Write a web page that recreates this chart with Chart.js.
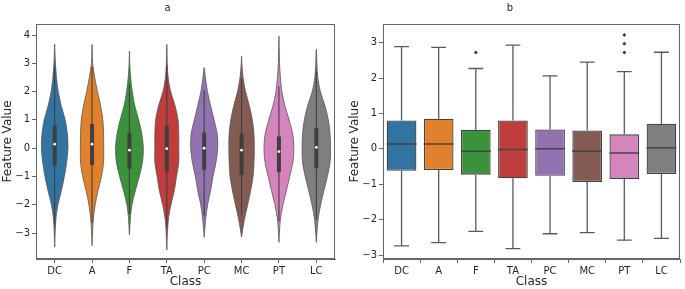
<!DOCTYPE html>
<html lang="en">
<head>
<meta charset="UTF-8">
<title>Feature Value by Class</title>
<script src="https://cdn.jsdelivr.net/npm/chart.js"></script>
<style>
  body { margin: 0; background: #fff; }
  #wrap { position: relative; width: 685px; height: 289px; }
  canvas { position: absolute; top: 0; }
  #violinChart { left: 0; }
  #boxChart { left: 340px; }
</style>
</head>
<body>
<div id="wrap">
  <canvas id="violinChart" width="340" height="289"></canvas>
  <canvas id="boxChart" width="345" height="289"></canvas>
</div>
<script>
// classes and colours (seaborn default palette, desaturated)
const classes = ['DC', 'A', 'F', 'TA', 'PC', 'MC', 'PT', 'LC'];
const colors = ['#3274a1', '#e1812c', '#3a923a', '#c03d3e', '#9372b2', '#845b53', '#d684bd', '#7f7f7f'];

// box statistics
const q1 = [-0.62, -0.60, -0.73, -0.83, -0.76, -0.94, -0.85, -0.71];
const median = [0.14, 0.14, -0.07, -0.02, 0.00, -0.07, -0.12, 0.03];
const q3 = [0.80, 0.85, 0.54, 0.80, 0.55, 0.52, 0.41, 0.71];
const whiskerLow = [-2.74, -2.65, -2.33, -2.82, -2.40, -2.37, -2.58, -2.53];
const whiskerHigh = [2.89, 2.87, 2.27, 2.93, 2.06, 2.45, 2.18, 2.73];
const outliers = [[], [], [2.72], [], [], [], [2.72, 2.97, 3.22], []];

// violin outlines (relative density at each level)
const violinLevels = [3.5, 3, 2.5, 2, 1.5, 1, 0.5, 0, -0.5, -1, -1.5, -2, -2.5, -3];
const violinTop = [3.67, 3.67, 3.43, 3.67, 2.85, 3.26, 3.96, 3.5];
const violinBottom = [-3.5, -3.45, -3.06, -3.6, -3.15, -3.15, -3.33, -3.33];
const violinDensity = [
  [0.01, 0.05, 0.12, 0.24, 0.44, 0.70, 0.85, 0.89, 0.80, 0.65, 0.45, 0.22, 0.08, 0.03],
  [0.01, 0.04, 0.18, 0.36, 0.57, 0.72, 0.77, 0.78, 0.77, 0.63, 0.40, 0.21, 0.09, 0.03],
  [0.00, 0.02, 0.08, 0.19, 0.36, 0.62, 0.83, 0.93, 0.87, 0.66, 0.40, 0.17, 0.06, 0.01],
  [0.01, 0.03, 0.09, 0.26, 0.55, 0.75, 0.80, 0.80, 0.80, 0.65, 0.50, 0.28, 0.11, 0.04],
  [0.00, 0.00, 0.08, 0.22, 0.43, 0.66, 0.87, 0.90, 0.79, 0.59, 0.43, 0.23, 0.10, 0.02],
  [0.00, 0.02, 0.10, 0.27, 0.52, 0.72, 0.83, 0.85, 0.83, 0.77, 0.61, 0.41, 0.20, 0.04],
  [0.02, 0.04, 0.10, 0.20, 0.40, 0.68, 0.92, 1.00, 0.93, 0.72, 0.50, 0.27, 0.10, 0.03],
  [0.00, 0.04, 0.10, 0.27, 0.58, 0.80, 0.92, 0.95, 0.92, 0.74, 0.51, 0.29, 0.12, 0.04]
];

const violinTicks = [-3, -2, -1, 0, 1, 2, 3, 4];
const boxTicks = [-3, -2, -1, 0, 1, 2, 3];

const FONT = 'DejaVu Sans';
const TEXT = '#262626';
const SPINE = '#666';
const LINE = '#444';

Chart.defaults.font.family = FONT;
Chart.defaults.color = TEXT;

// draws the top and right spines too
const framePlugin = {
  id: 'frame',
  afterDraw(chart) {
    const { ctx, chartArea: a } = chart;
    ctx.save();
    ctx.strokeStyle = SPINE;
    ctx.lineWidth = 1;
    ctx.strokeRect(a.left + 0.5, a.top + 0.5, a.right - a.left - 1, a.bottom - a.top - 1);
    ctx.restore();
  }
};

const fmt = v => v < 0 ? '\u2212' + Math.abs(v) : String(v);

function makeScales(yMin, yMax, yTicks, yWidth, yTitlePad) {
  return {
    x: {
      type: 'linear', min: -0.5, max: 7.5, offset: false,
      afterBuildTicks: s => { s.ticks = classes.map((c, i) => ({ value: i })); },
      afterFit: s => { s.height = 30; },
      ticks: { callback: v => classes[v], autoSkip: false, maxRotation: 0, padding: 2, font: { size: 10 }, color: TEXT },
      grid: { drawOnChartArea: false, tickLength: 4, color: SPINE },
      border: { color: SPINE },
      title: { display: true, text: 'Class', font: { size: 12 }, color: TEXT, padding: { top: 0, bottom: 0 } }
    },
    y: {
      type: 'linear', min: yMin, max: yMax,
      afterBuildTicks: s => { s.ticks = yTicks.map(v => ({ value: v })); },
      afterFit: s => { s.width = yWidth; },
      ticks: { callback: fmt, padding: 2, font: { size: 10 }, color: TEXT },
      grid: { drawOnChartArea: false, tickLength: 4, color: SPINE },
      border: { color: SPINE },
      title: { display: true, text: 'Feature Value', font: { size: 12 }, color: TEXT, padding: { top: yTitlePad, bottom: 0 } }
    }
  };
}

function makePlugins(title) {
  return {
    legend: { display: false },
    tooltip: { enabled: false },
    title: { display: true, text: title, font: { size: 10, weight: 'normal' }, color: TEXT, padding: { top: 2, bottom: 10 } }
  };
}

// segments joined into one dataset, broken by null points
function segments(list) {
  const pts = [];
  list.forEach(([x0, y0, x1, y1]) => {
    pts.push({ x: x0, y: y0 }, { x: x1, y: y1 }, { x: x1, y: null });
  });
  return pts;
}

// ---------- panel a: violins ----------
const violinSets = classes.map((c, i) => {
  const side = [];
  for (let k = violinLevels.length - 1; k >= 0; k--) {
    const v = violinLevels[k];
    if (v > violinBottom[i] && v < violinTop[i]) side.push({ v, d: violinDensity[i][k] });
  }
  const pts = [{ x: i, y: violinBottom[i] }];
  side.forEach(p => pts.push({ x: i - p.d * 0.4, y: p.v }));
  pts.push({ x: i, y: violinTop[i] });
  side.slice().reverse().forEach(p => pts.push({ x: i + p.d * 0.4, y: p.v }));
  pts.push({ x: i, y: violinBottom[i] });
  return {
    data: pts, backgroundColor: colors[i], borderColor: '#555', borderWidth: 0.8,
    fill: 'shape', tension: 0.3, pointRadius: 0, order: 3
  };
});

new Chart(document.getElementById('violinChart'), {
  type: 'line',
  data: {
    datasets: [
      ...violinSets,
      {
        data: segments(classes.map((c, i) => [i, whiskerLow[i], i, whiskerHigh[i]])),
        borderColor: '#3f3f3f', borderWidth: 1.1, pointRadius: 0, fill: false, order: 2
      },
      {
        data: segments(classes.map((c, i) => [i, q1[i], i, q3[i]])),
        borderColor: '#3f3f3f', borderWidth: 4, borderCapStyle: 'butt', pointRadius: 0, fill: false, order: 1
      },
      {
        data: classes.map((c, i) => ({ x: i, y: median[i] })),
        showLine: false, pointRadius: 1.4, pointBorderWidth: 0, pointBackgroundColor: '#fff', order: 0
      }
    ]
  },
  options: {
    responsive: false, animation: false, devicePixelRatio: 1,
    layout: { padding: { left: 0, right: 5, top: 0, bottom: 0 } },
    plugins: makePlugins('a'),
    scales: makeScales(-3.919, 4.389, violinTicks, 36, 1.1)
  },
  plugins: [framePlugin]
});

// ---------- panel b: box plots ----------
const outlierPts = [];
outliers.forEach((arr, i) => arr.forEach(v => outlierPts.push({ x: i, y: v })));

new Chart(document.getElementById('boxChart'), {
  type: 'bar',
  data: {
    datasets: [
      {
        type: 'bar',
        data: classes.map((c, i) => ({ x: i, y: [q1[i], q3[i]] })),
        backgroundColor: colors, borderColor: LINE, borderWidth: 1.3, borderSkipped: false,
        barPercentage: 0.8, categoryPercentage: 1, order: 1
      },
      {
        type: 'line',
        data: segments(classes.flatMap((c, i) => [[i, q3[i], i, whiskerHigh[i]], [i, q1[i], i, whiskerLow[i]]])),
        borderColor: '#5a5a5a', borderWidth: 1.3, pointRadius: 0, fill: false, order: 2
      },
      {
        type: 'line',
        data: segments(classes.flatMap((c, i) => [[i - 0.2, whiskerHigh[i], i + 0.2, whiskerHigh[i]], [i - 0.2, whiskerLow[i], i + 0.2, whiskerLow[i]]])),
        borderColor: '#5a5a5a', borderWidth: 1.3, pointRadius: 0, fill: false, order: 2
      },
      {
        type: 'line',
        data: segments(classes.map((c, i) => [i - 0.4, median[i], i + 0.4, median[i]])),
        borderColor: LINE, borderWidth: 1.5, pointRadius: 0, fill: false, order: 0
      },
      {
        type: 'line',
        data: outlierPts,
        showLine: false, pointStyle: 'rectRot', pointRadius: 2, pointBorderWidth: 0,
        pointBackgroundColor: '#3f3f3f', order: 0
      }
    ]
  },
  options: {
    responsive: false, animation: false, devicePixelRatio: 1,
    layout: { padding: { left: 0, right: 5, top: 0, bottom: 0 } },
    plugins: makePlugins('b'),
    scales: makeScales(-3.113, 3.528, boxTicks, 43, 7.8)
  },
  plugins: [framePlugin]
});
</script>
</body>
</html>
